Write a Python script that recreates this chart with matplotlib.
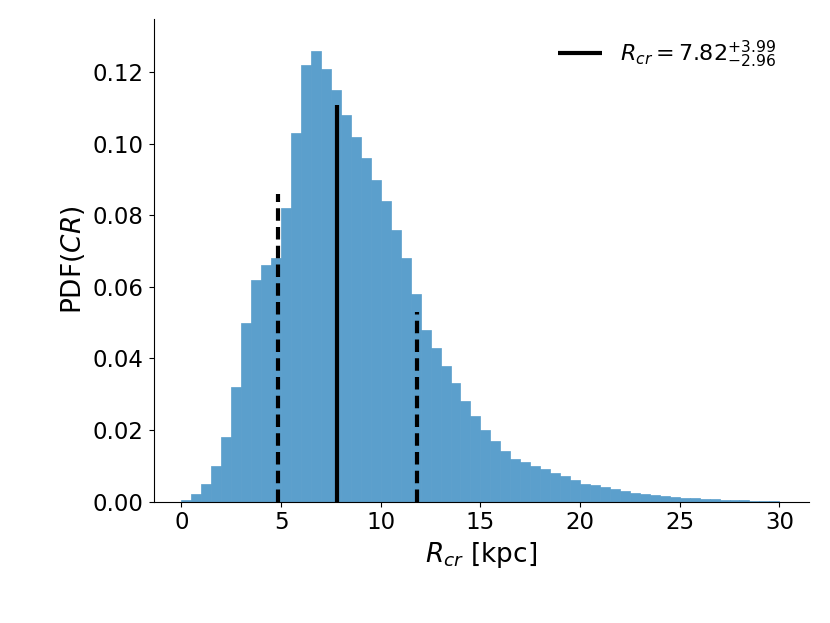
import matplotlib
matplotlib.use("Agg")
import matplotlib.pyplot as plt
import numpy as np

bin_left = np.arange(0, 30, 0.5)
pdf = [0.0003, 0.002, 0.005, 0.010, 0.018, 0.032, 0.050, 0.062, 0.066, 0.068,
       0.082, 0.103, 0.122, 0.126, 0.121, 0.115, 0.108, 0.102, 0.096, 0.090,
       0.084, 0.076, 0.068, 0.058, 0.048, 0.043, 0.038, 0.033, 0.028, 0.024,
       0.020, 0.017, 0.014, 0.012, 0.011, 0.010, 0.009, 0.008, 0.007, 0.006,
       0.005, 0.0045, 0.004, 0.0035, 0.003, 0.0025, 0.002, 0.0018, 0.0015, 0.0012,
       0.0010, 0.0009, 0.0008, 0.0006, 0.0005, 0.0004, 0.0003, 0.0002, 0.0002, 0.0001]
median, lo, hi = 7.82, 4.86, 11.81
line_h = [0.111, 0.086, 0.053]

fig, ax = plt.subplots(figsize=(8.3, 6.23), dpi=100)
ax.bar(bin_left, pdf, width=0.5, align='edge', color='#5b9fcc', edgecolor='#5b9fcc', linewidth=0.5)
ax.vlines(median, 0, line_h[0], color='k', lw=3,
          label=r'$R_{cr} = 7.82^{+3.99}_{-2.96}$')
ax.vlines([lo, hi], 0, line_h[1:], color='k', lw=3, linestyles=(0, (3, 1.5)))
ax.set_xlim(-1.4, 31.5)
ax.set_ylim(0, 0.135)
ax.set_yticks(np.arange(0, 0.13, 0.02))
ax.set_yticklabels([f'{v:.2f}' for v in np.arange(0, 0.13, 0.02)])
ax.tick_params(labelsize=16.5)
ax.set_xlabel(r'$R_{cr}$ [kpc]', fontsize=19)
ax.set_ylabel(r'PDF($CR$)', fontsize=19)
ax.spines['top'].set_visible(False)
ax.spines['right'].set_visible(False)
ax.legend(loc='upper right', frameon=False, fontsize=16, bbox_to_anchor=(0.98, 1.0))
fig.subplots_adjust(left=0.185, right=0.975, bottom=0.195, top=0.97)
fig.savefig('out.png')
